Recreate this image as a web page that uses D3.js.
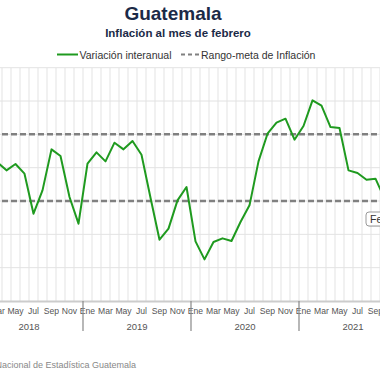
<!DOCTYPE html>
<html>
<head>
<meta charset="utf-8">
<script src="https://cdn.jsdelivr.net/npm/d3@7"></script>
<style>
  html, body { margin: 0; padding: 0; background: #fff; overflow: hidden; }
  svg { display: block; font-family: "Liberation Sans", Arial, sans-serif; }
</style>
</head>
<body>
<svg id="chart" width="380" height="380"></svg>
<script>
// ---- data ----
const monthNames = ["Ene","Feb","Mar","Abr","May","Jun","Jul","Ago","Sep","Oct","Nov","Dic"];
const years = [2018, 2019, 2020, 2021];
const seriesMonths = [
  "Mar 2018","Abr 2018","May 2018","Jun 2018","Jul 2018","Ago 2018","Sep 2018","Oct 2018","Nov 2018","Dic 2018",
  "Ene 2019","Feb 2019","Mar 2019","Abr 2019","May 2019","Jun 2019","Jul 2019","Ago 2019","Sep 2019","Oct 2019","Nov 2019","Dic 2019",
  "Ene 2020","Feb 2020","Mar 2020","Abr 2020","May 2020","Jun 2020","Jul 2020","Ago 2020","Sep 2020","Oct 2020","Nov 2020","Dic 2020",
  "Ene 2021","Feb 2021","Mar 2021","Abr 2021","May 2021","Jun 2021","Jul 2021","Ago 2021","Sep 2021","Oct 2021"
];
const inflation = [
  4.16, 3.92, 4.11, 3.82, 2.62, 3.32, 4.55, 4.35, 3.12, 2.32,
  4.12, 4.46, 4.19, 4.75, 4.55, 4.80, 4.39, 3.10, 1.84, 2.17, 3.02, 3.42,
  1.79, 1.25, 1.77, 1.88, 1.80, 2.37, 2.87, 4.19, 5.02, 5.35, 5.47, 4.84,
  5.25, 6.02, 5.86, 5.22, 5.19, 3.92, 3.84, 3.64, 3.67, 3.07
];
const targetRange = [3, 5];
const yTicks = [0, 1, 2, 3, 4, 5, 6, 7];
const monthTickNames = ["Ene","Mar","May","Jul","Sep","Nov"];
const titleText = "Guatemala";
const subtitleText = "Inflación al mes de febrero";
const legendLabels = ["Variación interanual", "Rango-meta de Inflación"];
const sourceText = "Fuente: Instituto Nacional de Estadística Guatemala";
const tooltipText = "Feb 2022";

// ---- setup ----
const categories = years.flatMap(y => monthNames.map(m => `${m} ${y}`));
const svg = d3.select("#chart");

const x = d3.scaleBand().domain(categories).range([-25, 407]).paddingInner(0).paddingOuter(0);
const bw = x.bandwidth();
const y = d3.scaleLinear().domain([0, 7]).range([301, 67.7]);
const x0 = x.range()[0], x1 = x.range()[1];

// ---- grid ----
const grid = svg.append("g");
grid.selectAll("line.v").data(categories.concat([null])).join("line")
  .attr("x1", d => d === null ? x1 : x(d)).attr("x2", d => d === null ? x1 : x(d))
  .attr("y1", y(7)).attr("y2", y(0))
  .attr("stroke", "#e3e3e3").attr("stroke-width", 1);
grid.selectAll("line.h").data(yTicks.filter(t => t > 0)).join("line")
  .attr("x1", x0).attr("x2", x1)
  .attr("y1", d => y(d)).attr("y2", d => y(d))
  .attr("stroke", "#e3e3e3").attr("stroke-width", 1);

// ---- target range (dashed) ----
svg.append("g").selectAll("line").data(targetRange).join("line")
  .attr("x1", x0).attr("x2", x1)
  .attr("y1", d => y(d)).attr("y2", d => y(d))
  .attr("stroke", "#808080").attr("stroke-width", 2.5)
  .attr("stroke-dasharray", "6,3");

// ---- series ----
const series = seriesMonths.map((c, i) => ({ c, v: inflation[i] }));
const line = d3.line().x(d => x(d.c) + bw / 2).y(d => y(d.v));
svg.append("path").datum(series)
  .attr("d", line).attr("fill", "none")
  .attr("stroke", "#1f9a1f").attr("stroke-width", 2)
  .attr("stroke-linejoin", "round");

// ---- x axis ----
const axis = d3.axisBottom(x)
  .tickValues(categories.filter(c => monthTickNames.includes(c.split(" ")[0])))
  .tickFormat(c => c.split(" ")[0])
  .tickSize(0).tickPadding(7);
const ax = svg.append("g").attr("transform", `translate(0,${y(0)})`).call(axis);
ax.select(".domain").attr("stroke", "#cccccc").attr("stroke-width", 2);
ax.selectAll("text").attr("fill", "#555").style("font-size", "8.6px")
  .style("font-family", "'Liberation Sans', Arial, sans-serif");

// year groups
const yearG = svg.append("g");
years.forEach((yr, i) => {
  const start = x(`Ene ${yr}`);
  const end = x(`Dic ${yr}`) + bw;
  if (i > 0) {
    yearG.append("line").attr("x1", start).attr("x2", start)
      .attr("y1", y(0)).attr("y2", y(0) + 30)
      .attr("stroke", "#888").attr("stroke-width", 1.2);
  }
  yearG.append("text").attr("x", (start + end) / 2).attr("y", y(0) + 29)
    .attr("text-anchor", "middle").attr("fill", "#555").style("font-size", "9.5px")
    .text(yr);
});

// ---- titles ----
svg.append("text").attr("x", 173).attr("y", 20).attr("text-anchor", "middle")
  .attr("fill", "#1b2a47").style("font-size", "19px").style("font-weight", "bold")
  .text(titleText);
svg.append("text").attr("x", 178).attr("y", 37).attr("text-anchor", "middle")
  .attr("fill", "#1b2a47").style("font-size", "11.5px").style("font-weight", "bold")
  .text(subtitleText);

// ---- legend ----
const lg = svg.append("g");
lg.append("line").attr("x1", 57).attr("x2", 78).attr("y1", 54.5).attr("y2", 54.5)
  .attr("stroke", "#1f9a1f").attr("stroke-width", 2);
lg.append("text").attr("x", 79.5).attr("y", 58.5).attr("fill", "#333")
  .style("font-size", "10.5px").text(legendLabels[0]);
lg.append("line").attr("x1", 181).attr("x2", 200).attr("y1", 54.5).attr("y2", 54.5)
  .attr("stroke", "#808080").attr("stroke-width", 2).attr("stroke-dasharray", "4,3");
lg.append("text").attr("x", 201).attr("y", 58.5).attr("fill", "#333")
  .style("font-size", "10.5px").text(legendLabels[1]);

// ---- source ----
svg.append("text").attr("x", 136).attr("y", 368).attr("text-anchor", "end")
  .attr("fill", "#888").style("font-size", "9px").text(sourceText);

// ---- tooltip (partially outside view) ----
const tt = svg.append("g").attr("transform", "translate(366,212)");
tt.append("rect").attr("x", 1).attr("y", 1).attr("width", 60).attr("height", 14).attr("rx", 3)
  .attr("fill", "rgba(0,0,0,0.08)");
tt.append("rect").attr("width", 60).attr("height", 14).attr("rx", 3)
  .attr("fill", "rgba(255,255,255,0.95)").attr("stroke", "#999").attr("stroke-width", 1);
tt.append("text").attr("x", 4).attr("y", 11).attr("fill", "#333")
  .style("font-size", "10.5px").text(tooltipText);
</script>
</body>
</html>
